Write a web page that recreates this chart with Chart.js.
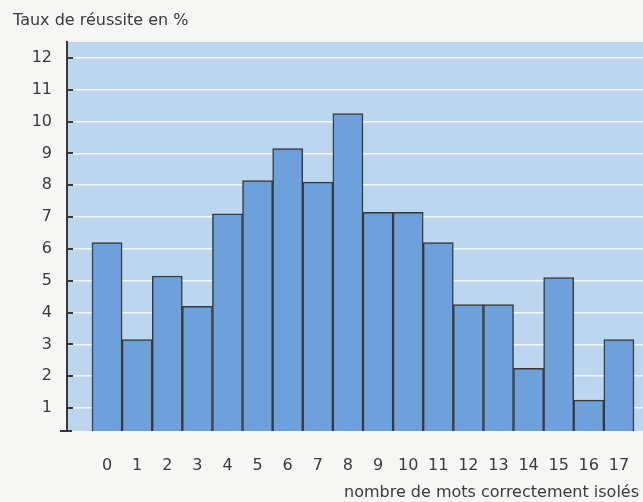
<!DOCTYPE html>
<html>
<head>
<meta charset="utf-8">
<script src="https://cdn.jsdelivr.net/npm/chart.js@4.4.1/dist/chart.umd.min.js"></script>
<style>
html, body { margin: 0; padding: 0; background: #f6f6f4; }
#wrap { width: 643px; height: 502px; }
</style>
</head>
<body>
<div id="wrap"><canvas id="myChart"></canvas></div>
<script>
const categories = ['0', '1', '2', '3', '4', '5', '6', '7', '8', '9', '10', '11', '12', '13', '14', '15', '16', '17'];
const values = [6.2, 3.15, 5.15, 4.2, 7.1, 8.15, 9.15, 8.1, 10.25, 7.15, 7.15, 6.2, 4.25, 4.25, 2.25, 5.1, 1.25, 3.15];
const yTicks = [1, 2, 3, 4, 5, 6, 7, 8, 9, 10, 11, 12];
const yTitle = 'Taux de réussite en %';
const xTitle = 'nombre de mots correctement isolés';

const textColor = '#3a3a3a';
const lineColor = '#353a3a';
const fontFamily = '"DejaVu Sans", sans-serif';

// light blue plot area behind the grid
const plotBackground = {
    id: 'plotBackground',
    beforeDraw(chart)
    {
        const { ctx, chartArea } = chart;
        ctx.save();
        ctx.fillStyle = '#bdd6f0';
        ctx.fillRect(chartArea.left, chartArea.top, chartArea.right - chartArea.left, chartArea.bottom - chartArea.top);
        ctx.restore();
    }
};

// inward tick marks, little foot under the axis, and the two axis titles
const axisMarks = {
    id: 'axisMarks',
    afterDraw(chart)
    {
        const { ctx, chartArea } = chart;
        const y = chart.scales.y;
        ctx.save();
        ctx.strokeStyle = lineColor;
        ctx.lineWidth = 2;
        ctx.beginPath();
        yTicks.forEach(v =>
        {
            const py = Math.round(y.getPixelForValue(v));
            ctx.moveTo(chartArea.left, py);
            ctx.lineTo(chartArea.left + 6, py);
        });
        ctx.moveTo(chartArea.left - 7, chartArea.bottom);
        ctx.lineTo(chartArea.left + 5, chartArea.bottom);
        ctx.stroke();

        ctx.fillStyle = textColor;
        ctx.font = '16px ' + fontFamily;
        ctx.textBaseline = 'alphabetic';
        ctx.textAlign = 'left';
        ctx.fillText(yTitle, 13, 25);
        ctx.textAlign = 'right';
        ctx.fillText(xTitle, chartArea.right - 4, 497);
        ctx.restore();
    }
};

new Chart(document.getElementById('myChart'), {
    type: 'bar',
    data: {
        datasets: [
            {
                data: categories.map((c, i) => ({ x: i, y: values[i] })),
                backgroundColor: '#6ea0dc',
                borderColor: lineColor,
                borderWidth: 1.5,
                borderSkipped: false,
                barPercentage: 1,
                categoryPercentage: 1,
            },
        ]
    },
    options: {
        responsive: true,
        maintainAspectRatio: false,
        animation: false,
        devicePixelRatio: 1,
        layout: {
            padding: { top: 42, left: 0, right: 0, bottom: 0 }
        },
        plugins: {
            legend: { display: false },
            tooltip: { enabled: false },
        },
        scales: {
            x: {
                type: 'linear',
                offset: false,
                min: -1.33,
                max: 17.8,
                afterBuildTicks: (scale) =>
                {
                    scale.ticks = categories.map((c, i) => ({ value: i }));
                },
                afterFit: (scale) =>
                {
                    scale.height = 71;
                    scale.paddingLeft = 0;
                    scale.paddingRight = 0;
                },
                grid: { display: false, drawTicks: false },
                border: { display: false },
                ticks: {
                    color: textColor,
                    font: { family: fontFamily, size: 16 },
                    padding: 25,
                    maxRotation: 0,
                    autoSkip: false,
                    callback: (value) => categories[value]
                }
            },
            y: {
                type: 'linear',
                min: 0.28,
                max: 12.5,
                afterBuildTicks: (scale) =>
                {
                    scale.ticks = yTicks.map(v => ({ value: v }));
                },
                afterFit: (scale) =>
                {
                    scale.width = 67;
                },
                grid: {
                    color: 'rgba(255,255,255,0.8)',
                    lineWidth: 1.5,
                    drawTicks: false,
                },
                border: { display: true, color: lineColor, width: 2 },
                ticks: {
                    color: textColor,
                    font: { family: fontFamily, size: 16 },
                    padding: 15,
                    callback: (value) => String(value)
                }
            }
        }
    },
    plugins: [plotBackground, axisMarks]
});
</script>
</body>
</html>
